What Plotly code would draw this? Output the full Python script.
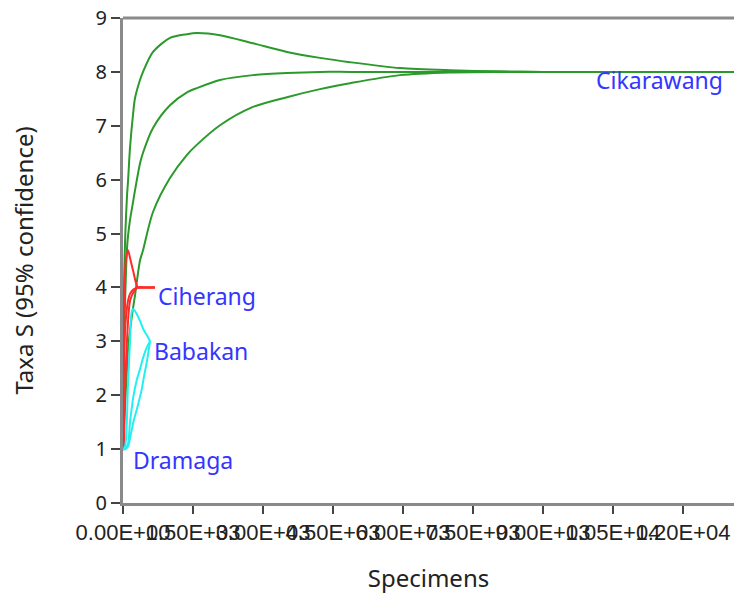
import plotly.graph_objects as go

# ---- data ----
cik_x = [1, 10, 25, 50, 86, 107, 150, 214, 257, 364, 429, 643, 1007, 1371, 1586, 2079,
         2786, 3514, 4221, 4864, 5936, 7007, 8079, 9000, 10500, 12000, 13500]
cik_mean = [1, 2.0, 3.0, 3.9, 4.73, 4.95, 5.25, 5.58, 5.8, 6.3, 6.5, 6.96, 7.38, 7.62, 7.7, 7.85,
            7.94, 7.98, 8.0, 8.0, 8.0, 8.0, 8.0, 8.0, 8.0, 8.0, 8.0]
cik_up = [1, 3.0, 4.2, 5.0, 5.7, 5.96, 6.59, 7.2, 7.51, 7.85, 8.0, 8.37, 8.63, 8.7, 8.72, 8.68,
          8.53, 8.37, 8.26, 8.18, 8.07, 8.03, 8.01, 8.0, 8.0, 8.0, 8.0]
cik_lo = [1, 1.0, 1.4, 1.9, 2.5, 2.84, 3.2, 3.61, 3.85, 4.5, 4.69, 5.4, 6.03, 6.46, 6.65, 7.01,
          7.35, 7.53, 7.68, 7.79, 7.94, 7.99, 8.0, 8.0, 8.0, 8.0, 8.0]

cih_x = [1, 10, 30, 60, 107, 150, 220, 321, 450, 686]
cih_mean = [1, 2.0, 2.9, 3.4, 3.75, 3.88, 3.96, 4.0, 4.0, 4.0]
cih_up = [1, 3.1, 4.0, 4.5, 4.69, 4.55, 4.3, 4.0, 4.0, 4.0]
cih_lo = [1, 1.0, 1.7, 2.5, 3.35, 3.75, 3.9, 4.0, 4.0, 4.0]

bab_x = [1, 43, 107, 150, 186, 221, 300, 364, 400, 450, 507, 580]
bab_up = [1, 1.05, 2.2, 3.0, 3.54, 3.6, 3.5, 3.38, 3.3, 3.2, 3.12, 3.0]
bab_mean = [1, 1.0, 1.1, 1.5, 1.75, 1.97, 2.3, 2.48, 2.6, 2.75, 2.88, 3.0]
bab_lo = [1, 1.0, 1.05, 1.2, 1.35, 1.5, 1.75, 1.97, 2.1, 2.35, 2.6, 3.0]

dra_x = [1, 20]
dra_y = [1, 1]

labels = ["Cikarawang", "Ciherang", "Babakan", "Dramaga"]
label_x = [10100, 710, 620, 170]
label_y = [7.85, 3.84, 2.82, 0.8]

x_ticks = [0, 1500, 3000, 4500, 6000, 7500, 9000, 10500, 12000]
x_ticktext = [f"{v:.2E}" for v in x_ticks]
y_ticks = list(range(0, 10))

GREEN = "#2a9a2a"
RED = "#ff2a2a"
CYAN = "#22f0f0"

fig = go.Figure()

def add_curves(x, series, color, width=2):
    for y in series:
        fig.add_trace(go.Scatter(x=x, y=y, mode="lines",
                                 line=dict(color=color, width=width, shape="spline", smoothing=0.8),
                                 showlegend=False, hoverinfo="skip"))

add_curves(cik_x, [cik_up, cik_mean, cik_lo], GREEN)
add_curves(cih_x, [cih_up, cih_mean, cih_lo], RED)
add_curves(bab_x, [bab_up, bab_mean, bab_lo], CYAN)
add_curves(dra_x, [dra_y], CYAN)

for t, lx, ly in zip(labels, label_x, label_y):
    fig.add_annotation(x=lx, y=ly, xref="x", yref="y", text=t, showarrow=False,
                       xanchor="left", yanchor="middle",
                       font=dict(family="Noto Sans", size=23, color="#3535ff"))

# top frame line
fig.add_shape(type="line", xref="paper", yref="paper", x0=0, x1=1, y0=1, y1=1,
              line=dict(color="#8a8a8a", width=3))

title_font = dict(family="Noto Sans", size=24, color="#222222")
fig.update_layout(
    width=734, height=594,
    margin=dict(l=123, r=0, t=18, b=91),
    paper_bgcolor="white", plot_bgcolor="white",
    xaxis=dict(range=[0, 13093], tickvals=x_ticks, ticktext=x_ticktext, tickangle=0,
               automargin=False,
               showgrid=False, zeroline=False, showline=True, linecolor="#8a8a8a", linewidth=3,
               ticks="outside", ticklen=8, tickwidth=1.5, tickcolor="#444444",
               tickfont=dict(family="Liberation Sans", size=22, color="#222222"),
               ticklabeloverflow="allow",
               title=dict(text="Specimens", font=title_font, standoff=30)),
    yaxis=dict(range=[0, 9], tickvals=y_ticks, showgrid=False, zeroline=False,
               automargin=False,
               showline=True, linecolor="#8a8a8a", linewidth=3,
               ticks="outside", ticklen=9, tickwidth=1.5, tickcolor="#444444",
               tickfont=dict(family="Noto Sans", size=20, color="#222222"),
               ticklabeloverflow="allow",
               title=dict(text="Taxa S (95% confidence)", font=title_font, standoff=56)),
)

fig.write_html("out.html", config={"displayModeBar": False},
               post_script="document.body.style.margin='0px';")
